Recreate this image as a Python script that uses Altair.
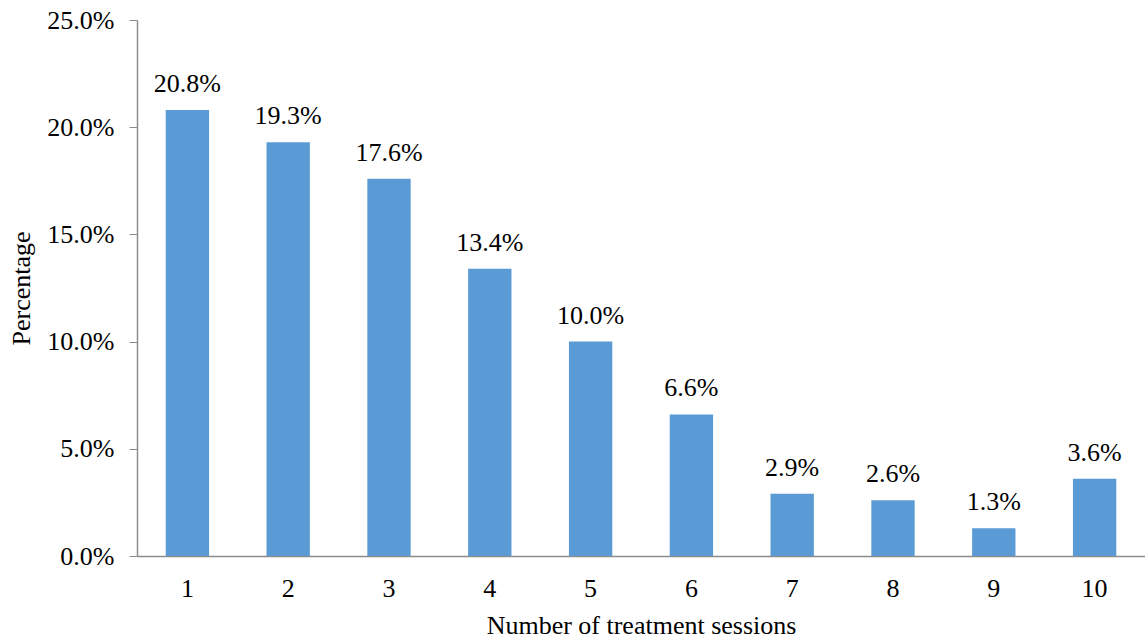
import altair as alt
import pandas as pd

# Share of patients by number of treatment sessions
sessions = ["1", "2", "3", "4", "5", "6", "7", "8", "9", "10"]
shares = [0.208, 0.193, 0.176, 0.134, 0.100, 0.066, 0.029, 0.026, 0.013, 0.036]

df = pd.DataFrame({"sessions": sessions, "share": shares})

FONT = "Liberation Serif"
FONT_SIZE = 26
AXIS_GREY = "#8c8c8c"

base = alt.Chart(df).encode(
    x=alt.X(
        "sessions:N",
        sort=sessions,
        title="Number of treatment sessions",
        scale=alt.Scale(paddingInner=0.57, paddingOuter=0.285),
        axis=alt.Axis(
            labelAngle=0,
            ticks=False,
            tickSize=0,
            labelPadding=19,
            titlePadding=11,
            domainColor=AXIS_GREY,
            domainWidth=1.5,
        ),
    ),
    y=alt.Y(
        "share:Q",
        title="Percentage",
        scale=alt.Scale(domain=[0, 0.25], nice=False),
        axis=alt.Axis(
            format=".1%",
            values=[0, 0.05, 0.10, 0.15, 0.20, 0.25],
            grid=False,
            tickSize=8,
            tickColor=AXIS_GREY,
            labelPadding=15,
            titlePadding=12,
            domainColor=AXIS_GREY,
            domainWidth=1.5,
        ),
    ),
)

bars = base.mark_bar(color="#5B9BD5")

labels = base.mark_text(
    baseline="alphabetic",
    dy=-18,
    font=FONT,
    fontSize=FONT_SIZE,
    color="#000000",
).encode(text=alt.Text("share:Q", format=".1%"))

chart = (
    (bars + labels)
    .properties(
        width=1008,
        height=536,
        background="white",
        autosize=alt.AutoSizeParams(type="none"),
        padding={"left": 137, "top": 20, "right": 0, "bottom": 85},
    )
    .configure_view(stroke=None)
    .configure_text(font=FONT, fontSize=FONT_SIZE)
    .configure_axis(
        labelFont=FONT,
        titleFont=FONT,
        labelFontSize=FONT_SIZE,
        titleFontSize=FONT_SIZE,
        titleFontWeight="normal",
        labelColor="#000000",
        titleColor="#000000",
    )
)

chart.save("out.html", embed_options={"renderer": "svg", "actions": False})
